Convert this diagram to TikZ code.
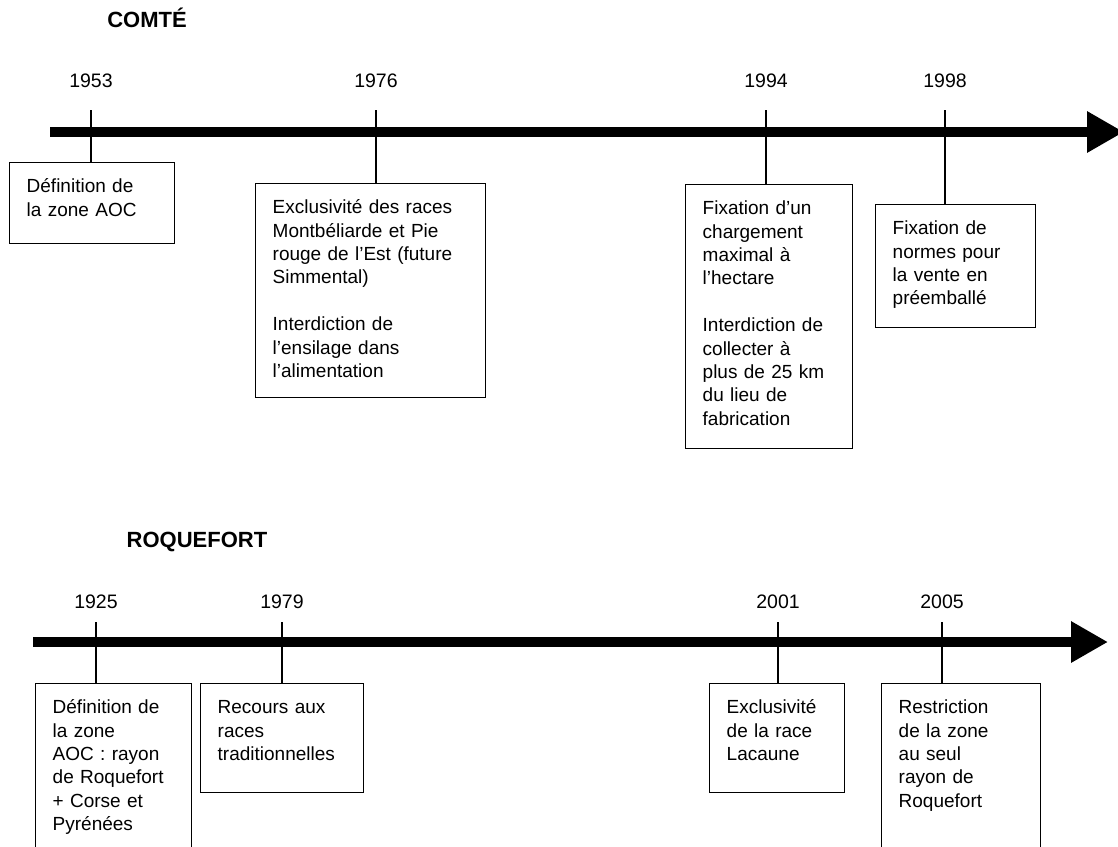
\documentclass[tikz,border=0pt]{standalone}
\usepackage{fontspec}
\setmainfont{Liberation Sans}
\usetikzlibrary{arrows.meta}

\begin{document}
\begin{tikzpicture}[x=1pt,y=-1pt,
	timeline/.style={line width=10pt,-{Triangle[length=37pt,width=39pt]}},
	title/.style={font=\fontsize{22}{26}\bfseries\selectfont,inner sep=0pt,anchor=base},
	year/.style={font=\fontsize{19.5}{23}\selectfont,inner sep=0pt,anchor=base},
	tick/.style={line width=1.4pt,shorten <=#1},
	evt/.style 2 args={draw,line width=1.4pt,anchor=north west,align=left,
		font=\fontsize{19}{23.4}\selectfont,inner xsep=17pt,inner ysep=0pt,
		text height=30pt,text width=#1,text depth=#2}]
		
		\useasboundingbox (0,0) rectangle (1118,846);
		\clip (0,0) rectangle (1118,846);
		
		% Comte
		\node[title] (comte) at (147,27) {COMTÉ};
		\coordinate (comteL) at (50,132);
		\coordinate (comteR) at (1124,132);
		\draw[timeline] (comteL) -- (comteR);
		
		\node[year] (y1953) at (91,87)  {1953};
		\node[year] (y1976) at (376,87) {1976};
		\node[year] (y1994) at (766,87) {1994};
		\node[year] (y1998) at (945,87) {1998};
		
		\node[evt={131pt}{51pt}]  (b1953) at (9,162)   {Définition de\\la zone AOC};
		\node[evt={196pt}{184pt}] (b1976) at (255,183) {Exclusivité des races\\Montbéliarde et Pie\\rouge de l'Est (future\\Simmental)\\[23.4pt]Interdiction de\\l'ensilage dans\\l'alimentation};
		\node[evt={133pt}{234pt}] (b1994) at (685,184) {Fixation d'un\\chargement\\maximal à\\l'hectare\\[23.4pt]Interdiction de\\collecter à\\plus de 25 km\\du lieu de\\fabrication};
		\node[evt={126pt}{93pt}]  (b1998) at (875,204) {Fixation de\\normes pour\\la vente en\\préemballé};
		
		\draw[tick=23pt] (y1953.south) -- (y1953.south |- b1953.north);
		\draw[tick=23pt] (y1976.south) -- (y1976.south |- b1976.north);
		\draw[tick=23pt] (y1994.south) -- (y1994.south |- b1994.north);
		\draw[tick=23pt] (y1998.south) -- (y1998.south |- b1998.north);
		
		% Roquefort
		\node[title] (roq) at (197,547) {ROQUEFORT};
		\coordinate (roqL) at (33,642);
		\coordinate (roqR) at (1108,642);
		\draw[timeline] (roqL) -- (roqR);
		
		\node[year] (y1925) at (96,608)  {1925};
		\node[year] (y1979) at (282,608) {1979};
		\node[year] (y2001) at (778,608) {2001};
		\node[year] (y2005) at (942,608) {2005};
		
		\node[evt={122pt}{157pt}] (b1925) at (35,683)  {Définition de\\la zone\\AOC : rayon\\de Roquefort\\+ Corse et\\Pyrénées};
		\node[evt={129pt}{79pt}]  (b1979) at (200,683) {Recours aux\\races\\traditionnelles};
		\node[evt={101pt}{79pt}]  (b2001) at (709,683) {Exclusivité\\de la race\\Lacaune};
		\node[evt={125pt}{157pt}] (b2005) at (881,683) {Restriction\\de la zone\\au seul\\rayon de\\Roquefort};
		
		\draw[tick=14pt] (y1925.south) -- (y1925.south |- b1925.north);
		\draw[tick=14pt] (y1979.south) -- (y1979.south |- b1979.north);
		\draw[tick=14pt] (y2001.south) -- (y2001.south |- b2001.north);
		\draw[tick=14pt] (y2005.south) -- (y2005.south |- b2005.north);
		
\end{tikzpicture}
\end{document}
